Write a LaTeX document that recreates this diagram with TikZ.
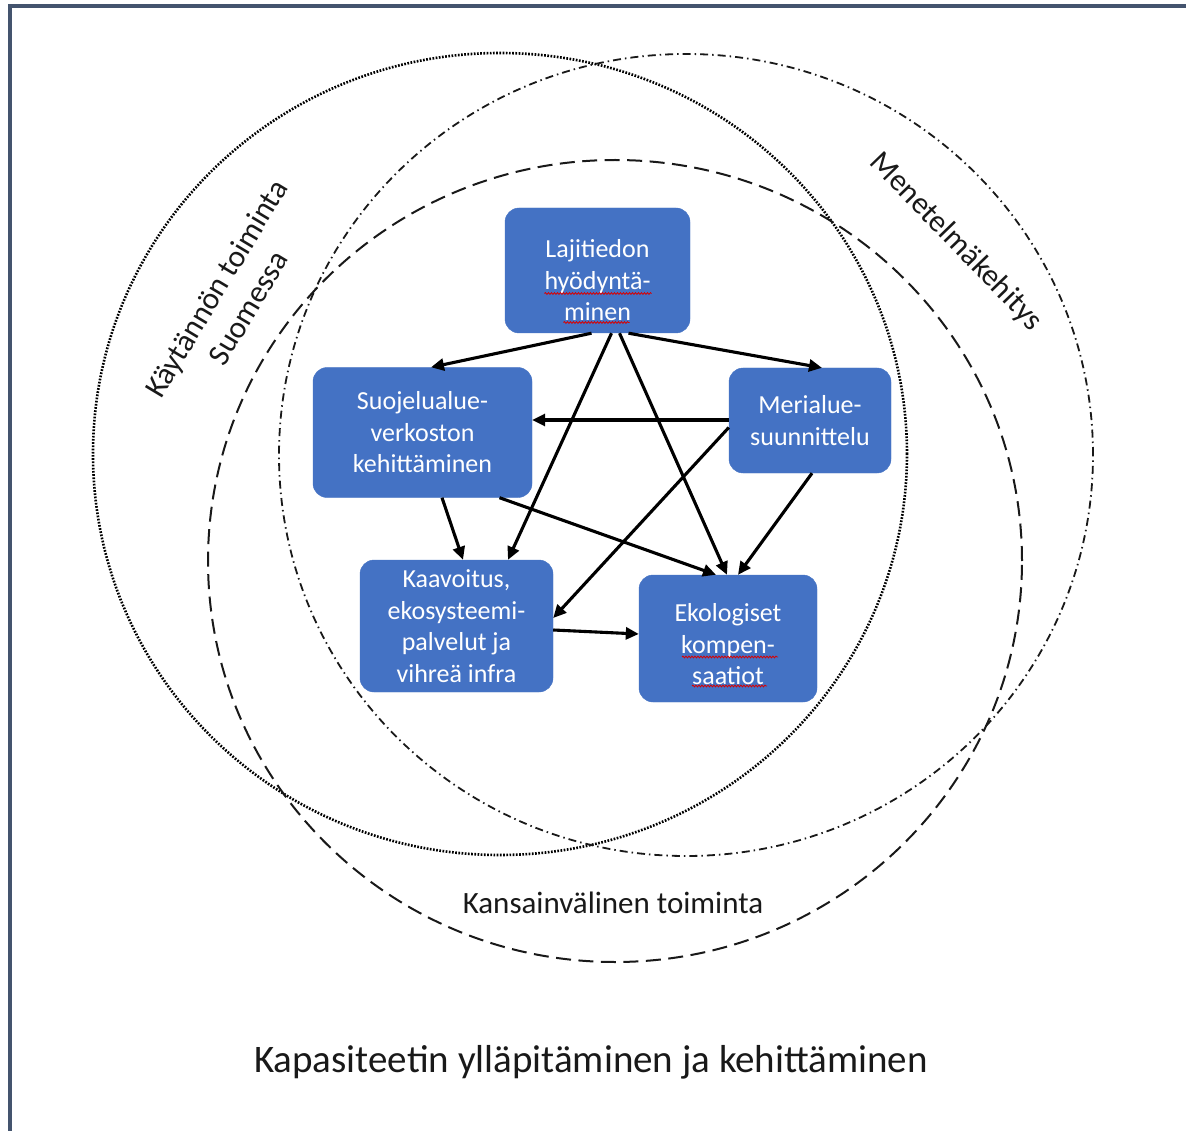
\documentclass[tikz,border=0pt]{standalone}
\usepackage{fontspec}
\setmainfont{Carlito}
\usetikzlibrary{arrows.meta,calc,decorations.pathmorphing}
\definecolor{boxblue}{RGB}{68,114,196}
\definecolor{framec}{RGB}{68,84,110}
\definecolor{inkc}{RGB}{25,25,25}
\begin{document}
\begin{tikzpicture}[x=1pt,y=-1pt,
  box/.style={fill=boxblue, draw=boxblue, rounded corners=14pt, inner sep=0pt},
  boxtext/.style={text=white, font=\fontsize{26}{31.5}\selectfont, align=center, inner sep=0pt},
  arr/.style={line width=3.1pt, draw=black, -{Triangle[length=13pt,width=12pt]}},
  wavy/.style={draw=red!85!black, line width=0.8pt, decorate, decoration={snake, amplitude=0.9pt, segment length=3pt}},
  lbl/.style={text=inkc, font=\fontsize{31}{37.5}\selectfont, align=center, inner sep=0pt},
  dotcirc/.style={draw=black, line width=2.6pt, dash pattern=on 1.7pt off 1.5pt},
  dashdotcirc/.style={draw=inkc, line width=1.8pt, dash pattern=on 8pt off 4pt on 1.5pt off 4pt},
  dashcirc/.style={draw=inkc, line width=2pt, dash pattern=on 15pt off 7.5pt}]

\useasboundingbox (0,0) rectangle (1186,1131);
\fill[white] (0,0) rectangle (1186,1131);
\draw[framec, line width=3.2pt] (10,1131) -- (10,6) -- (1186,6);

% circles
\draw[dotcirc] (500,454) ellipse [x radius=407pt, y radius=401pt];
\draw[dashdotcirc] (686,455) ellipse [x radius=407pt, y radius=401pt];
\draw[dashcirc] (615,561) ellipse [x radius=407pt, y radius=401pt];

% circle labels
\node[lbl, rotate=59] (kt) at (232,298) {Käytännön toiminta\\Suomessa};
\node[lbl, rotate=-46] (mk) at (956,242) {Menetelmäkehitys};
\node[lbl, anchor=base] (kv) at (613,913) {Kansainvälinen toiminta};
\node[text=inkc, font=\fontsize{39}{47}\selectfont, inner sep=0pt, anchor=base] (kap) at (591,1072) {Kapasiteetin ylläpitäminen ja kehittäminen};

% boxes
\node[box, minimum width=185pt, minimum height=125pt] (L) at (597.5,270.5) {};
\node[boxtext] (Lt) at ($(L.center)+(0,10)$) {Lajitiedon\\hyödyntä-\\minen};
\node[box, minimum width=219pt, minimum height=130pt] (S) at (422.5,432.5) {};
\node[boxtext] (St) at (S.center) {Suojelualue-\\verkoston\\kehittäminen};
\node[box, minimum width=162pt, minimum height=105pt] (M) at (810,420.5) {};
\node[boxtext] (Mt) at (M.center) {Merialue-\\suunnittelu};
\node[box, minimum width=193pt, minimum height=132pt] (K) at (456.5,626) {};
\node[boxtext] (Kt) at (K.center) {Kaavoitus,\\ekosysteemi-\\palvelut ja\\vihreä infra};
\node[box, minimum width=178pt, minimum height=127pt] (E) at (728,638.5) {};
\node[boxtext] (Et) at ($(E.center)+(0,6)$) {Ekologiset\\kompen-\\saatiot};

% spell-check underlines
\draw[wavy] ($(L.center)+(-53,23)$) -- ($(L.center)+(54,23)$);
\draw[wavy] ($(L.center)+(-34,52)$) -- ($(L.center)+(32,52)$);
\draw[wavy] ($(E.center)+(-46,18.5)$) -- ($(E.center)+(50,18.5)$);
\draw[wavy] ($(E.center)+(-36,47.5)$) -- ($(E.center)+(39,47.5)$);

% arrows
\draw[arr] ($(L.south)+(-6,0)$) -- ($(S.north)+(8.5,0)$);
\draw[arr] ($(L.south)+(31,0)$) -- ($(M.north)+(12,0)$);
\draw[arr] ($(L.south)+(14,0)$) -- ($(K.north)+(51.5,0)$);
\draw[arr] ($(L.south)+(22,0)$) -- ($(E.north)+(-1,0)$);
\draw[arr] ($(M.west)+(0,-0.5)$) -- ($(S.east)+(0,-12.5)$);
\draw[arr] ($(M.west)+(0,7)$) -- ($(K.east)+(0,-8)$);
\draw[arr] ($(M.south)+(2,0)$) -- ($(E.north)+(10,0)$);
\draw[arr] ($(S.south)+(19.5,0)$) -- ($(K.north)+(6.5,0)$);
\draw[arr] ($(S.south)+(77,0)$) -- ($(E.north)+(-12,0)$);
\draw[arr] ($(K.east)+(0,4)$) -- ($(E.west)+(0,-4.5)$);
\end{tikzpicture}
\end{document}
